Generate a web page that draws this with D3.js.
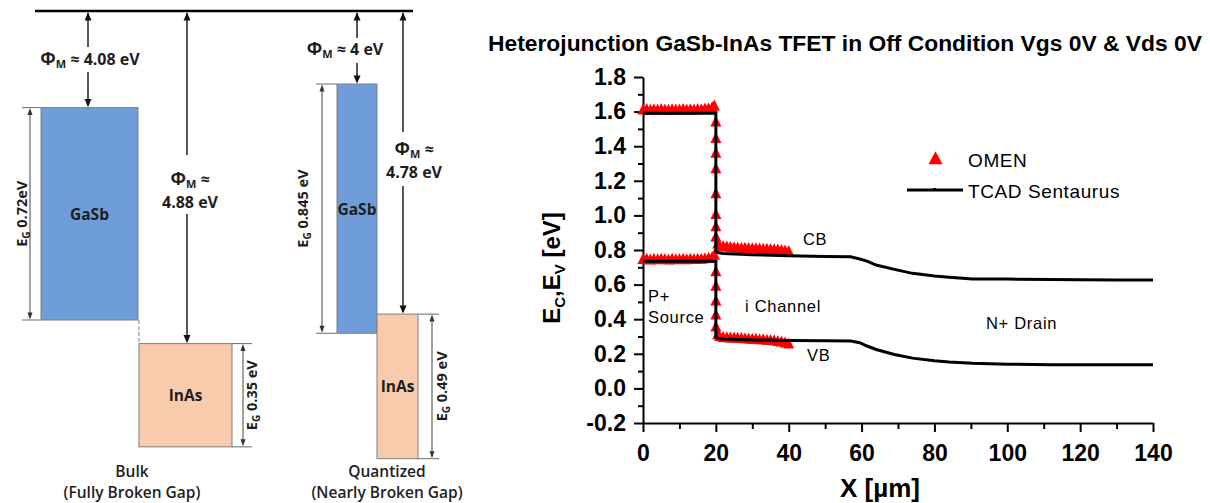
<!DOCTYPE html>
<html>
<head>
<meta charset="utf-8">
<script src="https://cdn.jsdelivr.net/npm/d3@7"></script>
<style>
  html, body { margin: 0; padding: 0; background: #fff; }
  svg { display: block; }
</style>
</head>
<body>
<svg id="fig" width="1210" height="503"></svg>
<script>
// ---------- Band alignment schematic ----------
const materials = ["GaSb", "InAs"];
const bulkPhi = [4.08, 4.88];          // work function / electron affinity (eV)
const bulkGap = [0.72, 0.35];          // band gap (eV)
const bulkGapText = ["0.72eV", "0.35 eV"];
const quantPhi = [4.0, 4.78];
const quantGap = [0.845, 0.49];
const quantGapText = ["0.845 eV", "0.49 eV"];
const captions = [["Bulk", "(Fully Broken Gap)"], ["Quantized", "(Nearly Broken Gap)"]];

// ---------- Band profile along the device ----------
const xTickValues = [0, 20, 40, 60, 80, 100, 120, 140];
const xMinorValues = [10, 30, 50, 70, 90, 110, 130];
const yTickValues = [-0.2, 0.0, 0.2, 0.4, 0.6, 0.8, 1.0, 1.2, 1.4, 1.6, 1.8];
const yMinorValues = [-0.1, 0.1, 0.3, 0.5, 0.7, 0.9, 1.1, 1.3, 1.5, 1.7];

// TCAD Sentaurus
const tcadX  = [0, 20, 20, 20.5, 22, 30, 40, 50, 57, 59.5, 61.5, 64, 69, 74, 80, 84, 90.5, 100, 112, 120, 130, 140];
const tcadCB = [1.59, 1.59, 0.795, 0.785, 0.78, 0.772, 0.767, 0.763, 0.761, 0.748, 0.736, 0.713, 0.688, 0.665, 0.650, 0.642, 0.632, 0.632, 0.630, 0.628, 0.627, 0.627];
const tcadVB = [0.735, 0.735, 0.30, 0.29, 0.285, 0.28, 0.277, 0.275, 0.274, 0.264, 0.245, 0.225, 0.196, 0.175, 0.160, 0.153, 0.145, 0.140, 0.137, 0.137, 0.137, 0.137];

// OMEN conduction band
const omenCbX = [0, 1, 2, 3, 4, 5, 6, 7, 8, 9, 10, 11, 12, 13, 14, 15, 16, 17, 18, 19, 19.6,
  20, 20, 20, 20, 20, 20, 20, 20,
  20.5, 21, 22, 23, 24, 25, 26, 27, 28, 29, 30, 31, 32, 33, 34, 35, 36, 37, 38, 39, 40];
const omenCbE = [1.605, 1.607, 1.603, 1.606, 1.604, 1.607, 1.605, 1.603, 1.606, 1.604, 1.605, 1.607, 1.604, 1.606, 1.605, 1.608, 1.606, 1.610, 1.612, 1.618, 1.628,
  1.535, 1.440, 1.355, 1.265, 1.120, 1.000, 0.930, 0.870,
  0.830, 0.820, 0.815, 0.812, 0.810, 0.808, 0.807, 0.806, 0.805, 0.804, 0.803, 0.802, 0.801, 0.800, 0.799, 0.798, 0.797, 0.795, 0.793, 0.790, 0.786];
// OMEN valence band
const omenVbX = [0, 1, 2, 3, 4, 5, 6, 7, 8, 9, 10, 11, 12, 13, 14, 15, 16, 17, 18, 19, 19.6,
  20, 20, 20, 20, 20,
  20.5, 21, 22, 23, 24, 25, 26, 27, 28, 29, 30, 31, 32, 33, 34, 35, 36, 37, 38, 39, 40];
const omenVbE = [0.740, 0.742, 0.738, 0.741, 0.739, 0.742, 0.740, 0.738, 0.741, 0.739, 0.740, 0.742, 0.739, 0.741, 0.740, 0.742, 0.741, 0.744, 0.747, 0.752, 0.765,
  0.670, 0.585, 0.500, 0.420, 0.350,
  0.305, 0.295, 0.290, 0.288, 0.287, 0.286, 0.285, 0.284, 0.282, 0.281, 0.280, 0.279, 0.277, 0.276, 0.274, 0.272, 0.270, 0.267, 0.263, 0.258, 0.252];

const svg = d3.select("#fig");

// ===== Left: schematic =====
const eScale = d3.scaleLinear().domain([4.0, 5.3]).range([84, 467.5]);
const vacY = 11;
const bandFill = { GaSb: "#6f9dd9", InAs: "#f8cbac" };

const gL = svg.append("g")
  .attr("font-family", "'Open Sans', 'DejaVu Sans', sans-serif")
  .attr("font-weight", 700)
  .attr("fill", "#1e1e1e");

function head(g, x, yTip, dir, w, h, color) {
  // dir = -1 points up, +1 points down
  g.append("path")
    .attr("d", `M${x},${yTip} L${x - w / 2},${yTip - dir * h} L${x + w / 2},${yTip - dir * h} Z`)
    .attr("fill", color);
}

const layout = [
  { // bulk
    cols: [
      { x0: 41, x1: 138, ax: 88, gap: [47, 72], lx: 90, ly: [65],
        gx: 30, gt: [22, 41], glx: 27 },
      { x0: 139, x1: 232, ax: 187, gap: [155, 214], lx: 190, ly: [185, 208],
        gx: 243, gt: [232, 252], glx: 257 }
    ],
    capX: 132, dashed: true
  },
  { // quantized
    cols: [
      { x0: 337, x1: 377, ax: 357, gap: [38, 63], lx: 345, ly: [55],
        gx: 322, gt: [316, 337], glx: 308 },
      { x0: 377, x1: 418, ax: 403, gap: [132, 186], lx: 414, ly: [155, 178],
        gx: 432, gt: [418, 439], glx: 447 }
    ],
    capX: 387, dashed: false
  }
];
const panelData = [
  { phi: bulkPhi, gap: bulkGap, gapText: bulkGapText },
  { phi: quantPhi, gap: quantGap, gapText: quantGapText }
];

// vacuum level
gL.append("line").attr("x1", 35).attr("x2", 413).attr("y1", vacY).attr("y2", vacY)
  .attr("stroke", "#000").attr("stroke-width", 2.5);

panelData.forEach((pd, p) => {
  const lay = layout[p];
  materials.forEach((m, i) => {
    const c = lay.cols[i];
    const top = eScale(pd.phi[i]);
    const bot = eScale(pd.phi[i] + pd.gap[i]);

    // band block
    gL.append("rect").attr("x", c.x0).attr("y", top)
      .attr("width", c.x1 - c.x0).attr("height", bot - top)
      .attr("fill", bandFill[m]).attr("stroke", "#7f7f7f").attr("stroke-width", 1);
    gL.append("text").attr("x", (c.x0 + c.x1) / 2).attr("y", (top + bot) / 2 + 6)
      .attr("text-anchor", "middle").attr("font-size", 15.5).text(m);

    // work-function arrow, broken around its label
    const ag = gL.append("g");
    ag.append("line").attr("x1", c.ax).attr("x2", c.ax).attr("y1", vacY + 2).attr("y2", c.gap[0])
      .attr("stroke", "#111").attr("stroke-width", 1.4);
    ag.append("line").attr("x1", c.ax).attr("x2", c.ax).attr("y1", c.gap[1]).attr("y2", top - 2)
      .attr("stroke", "#111").attr("stroke-width", 1.4);
    head(ag, c.ax, vacY + 1.5, -1, 7, 8, "#111");
    head(ag, c.ax, top - 0.5, 1, 7, 8, "#111");

    const valTxt = String(pd.phi[i]) + " eV";
    if (c.ly.length === 1) {
      const t = gL.append("text").attr("x", c.lx).attr("y", c.ly[0]).attr("text-anchor", "middle").attr("font-size", 16);
      t.append("tspan").attr("font-size", 18).text("Φ");
      t.append("tspan").attr("font-size", 11).attr("dy", 3).text("M");
      t.append("tspan").attr("dy", -3).text(" ≈ " + valTxt);
    } else {
      const t = gL.append("text").attr("x", c.lx).attr("y", c.ly[0]).attr("text-anchor", "middle").attr("font-size", 16);
      t.append("tspan").attr("font-size", 18).text("Φ");
      t.append("tspan").attr("font-size", 11).attr("dy", 3).text("M");
      t.append("tspan").attr("dy", -3).text(" ≈");
      gL.append("text").attr("x", c.lx).attr("y", c.ly[1]).attr("text-anchor", "middle")
        .attr("font-size", 16).text(valTxt);
    }

    // band-gap dimension arrow
    const gg = gL.append("g");
    [top, bot].forEach(yy => {
      gg.append("line").attr("x1", c.gt[0]).attr("x2", c.gt[1]).attr("y1", yy).attr("y2", yy)
        .attr("stroke", "#6a6a6a").attr("stroke-width", 1);
    });
    gg.append("line").attr("x1", c.gx).attr("x2", c.gx).attr("y1", top + 5).attr("y2", bot - 5)
      .attr("stroke", "#444").attr("stroke-width", 1);
    head(gg, c.gx, top + 0.5, -1, 5, 7, "#333");
    head(gg, c.gx, bot - 0.5, 1, 5, 7, "#333");
    const gt = gL.append("text")
      .attr("transform", `translate(${c.glx},${(top + bot) / 2}) rotate(-90)`)
      .attr("text-anchor", "middle").attr("font-size", 14.5);
    gt.append("tspan").text("E");
    gt.append("tspan").attr("font-size", 10).attr("dy", 3).text("G");
    gt.append("tspan").attr("dy", -3).text(" " + pd.gapText[i]);
  });

  if (lay.dashed) {
    const c0 = lay.cols[0];
    gL.append("line").attr("x1", c0.x1 + 1).attr("x2", c0.x1 + 1)
      .attr("y1", eScale(pd.phi[0] + pd.gap[0])).attr("y2", eScale(pd.phi[1]))
      .attr("stroke", "#7f7f7f").attr("stroke-width", 1).attr("stroke-dasharray", "4,2");
  }

  gL.append("text").attr("x", lay.capX).attr("y", 477).attr("text-anchor", "middle")
    .attr("font-size", 15.5).attr("font-weight", 600).text(captions[p][0]);
  gL.append("text").attr("x", lay.capX).attr("y", 498).attr("text-anchor", "middle")
    .attr("font-size", 15.5).attr("font-weight", 600).text(captions[p][1]);
});

// ===== Right: band profile chart =====
const x = d3.scaleLinear().domain([0, 140]).range([643, 1153]);
const y = d3.scaleLinear().domain([-0.2, 1.8]).range([423, 77]);

const gR = svg.append("g").attr("font-family", "'Liberation Sans', Arial, sans-serif");

gR.append("text").attr("x", 845).attr("y", 51).attr("text-anchor", "middle")
  .attr("font-size", 22).attr("font-weight", 700)
  .attr("textLength", 714).attr("lengthAdjust", "spacingAndGlyphs")
  .text("Heterojunction GaSb-InAs TFET in Off Condition Vgs 0V & Vds 0V");

function styleAxis(g) {
  g.select(".domain").attr("stroke", "#000").attr("stroke-width", 2);
  g.selectAll(".tick line").attr("stroke", "#000").attr("stroke-width", 2);
  g.selectAll(".tick text").attr("font-family", "'Liberation Sans', Arial, sans-serif")
    .attr("font-weight", 700).attr("font-size", 23).attr("fill", "#000");
}

// minor ticks
gR.append("g").attr("transform", `translate(${x(0)},0)`)
  .call(d3.axisLeft(y).tickValues(yMinorValues).tickSize(5).tickFormat(""))
  .call(g => { g.select(".domain").remove(); g.selectAll(".tick line").attr("stroke", "#000").attr("stroke-width", 2); });
gR.append("g").attr("transform", `translate(0,${y(-0.2)})`)
  .call(d3.axisBottom(x).tickValues(xMinorValues).tickSize(6).tickFormat(""))
  .call(g => { g.select(".domain").remove(); g.selectAll(".tick line").attr("stroke", "#000").attr("stroke-width", 2); });

// major axes
gR.append("g").attr("transform", `translate(${x(0)},0)`)
  .call(d3.axisLeft(y).tickValues(yTickValues).tickSize(9).tickSizeOuter(0).tickPadding(8)
    .tickFormat(d => d.toFixed(1)))
  .call(styleAxis);
gR.append("g").attr("transform", `translate(0,${y(-0.2)})`)
  .call(d3.axisBottom(x).tickValues(xTickValues).tickSize(9).tickSizeOuter(0).tickPadding(13)
    .tickFormat(d => String(d)))
  .call(styleAxis);

// axis titles
const yt = gR.append("text")
  .attr("transform", `translate(560,268) rotate(-90)`)
  .attr("text-anchor", "middle").attr("font-size", 24).attr("font-weight", 700);
yt.append("tspan").text("E");
yt.append("tspan").attr("font-size", 15).attr("dy", 5).text("C");
yt.append("tspan").attr("dy", -5).text(",E");
yt.append("tspan").attr("font-size", 15).attr("dy", 5).text("V");
yt.append("tspan").attr("dy", -5).text(" [eV]");

gR.append("text").attr("x", 880).attr("y", 497).attr("text-anchor", "middle")
  .attr("font-size", 26).attr("font-weight", 700).text("X [µm]");

// OMEN markers
const triW = 11, triH = 11;
const tri = (w, h) => `M0,${-h * 2 / 3} L${w / 2},${h / 3} L${-w / 2},${h / 3} Z`;
const omenPts = d3.zip(omenCbX, omenCbE).concat(d3.zip(omenVbX, omenVbE));
gR.append("g").selectAll("path").data(omenPts).join("path")
  .attr("d", tri(triW, triH))
  .attr("transform", d => `translate(${x(d[0])},${y(d[1])})`)
  .attr("fill", "#ff0000");

// TCAD lines
const line = d3.line().x(d => x(d[0])).y(d => y(d[1])).curve(d3.curveLinear);
[tcadCB, tcadVB].forEach(series => {
  gR.append("path").datum(d3.zip(tcadX, series))
    .attr("d", line).attr("fill", "none").attr("stroke", "#000")
    .attr("stroke-width", 3).attr("stroke-linejoin", "miter");
});

// legend
gR.append("path").attr("d", tri(14, 13)).attr("transform", "translate(935.5,160)").attr("fill", "#ff0000");
gR.append("text").attr("x", 968).attr("y", 167).attr("font-size", 19).attr("letter-spacing", 0.6).text("OMEN");
gR.append("line").attr("x1", 907).attr("x2", 963).attr("y1", 190).attr("y2", 190)
  .attr("stroke", "#000").attr("stroke-width", 3);
gR.append("rect").attr("x", 933).attr("y", 188).attr("width", 3).attr("height", 3).attr("fill", "#000");
gR.append("text").attr("x", 968).attr("y", 198).attr("font-size", 19).attr("letter-spacing", 0.6).text("TCAD Sentaurus");

// region annotations
const notes = [
  { t: "CB", x: 803, y: 245 },
  { t: "VB", x: 807, y: 361 },
  { t: "i Channel", x: 745, y: 312 },
  { t: "N+ Drain", x: 986, y: 329 },
  { t: "P+", x: 648, y: 302 },
  { t: "Source", x: 648, y: 323 }
];
gR.append("g").selectAll("text").data(notes).join("text")
  .attr("x", d => d.x).attr("y", d => d.y)
  .attr("font-size", 16.5).attr("letter-spacing", 0.7).attr("fill", "#000")
  .text(d => d.t);
</script>
</body>
</html>
